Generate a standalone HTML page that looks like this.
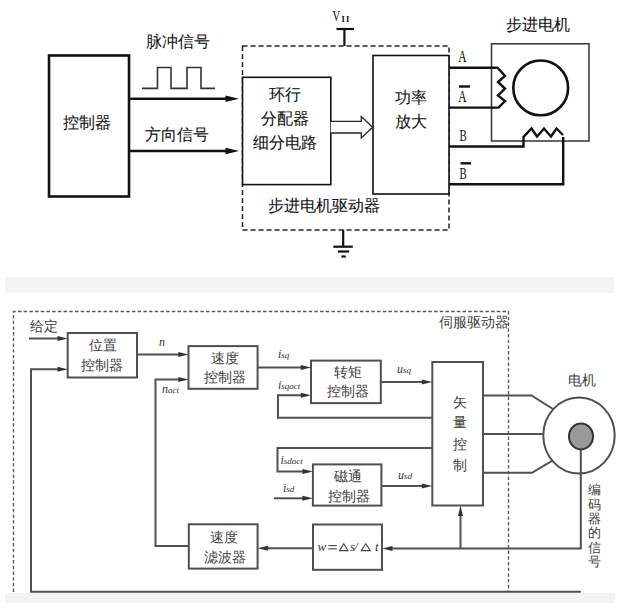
<!DOCTYPE html>
<html><head><meta charset="utf-8">
<style>
html,body{margin:0;padding:0;background:#fff;}
svg{display:block;}
text{font-family:"Liberation Sans",sans-serif;}
.sf text{font-family:"Liberation Serif",serif;}
.cj{font-size:16px;fill:#111;stroke:#111;stroke-width:0.08px;}
.cb{font-size:13px;fill:#3c3c3c;}
text.ser, .ser text{font-family:"Liberation Serif",serif;font-style:italic;fill:#333;}
</style></head><body>
<svg width="636" height="610" viewBox="0 0 636 610">
<!-- ===== TOP DIAGRAM ===== -->
<g fill="none" stroke="#111">
  <rect x="49" y="55.5" width="80" height="141" stroke-width="2.6"/>
  <polyline points="142,88.4 157.5,88.4 157.5,67.5 171,67.5 171,88.4 187,88.4 187,67.5 201,67.5 201,88.4 215,88.4" stroke="#333" stroke-width="1.6"/>
  <line x1="129" y1="98.7" x2="228" y2="98.7" stroke-width="2.6"/>
  <line x1="129" y1="151" x2="228" y2="151" stroke-width="2.6"/>
  <rect x="242.5" y="46" width="206.5" height="184" stroke="#222" stroke-width="1.5" stroke-dasharray="5 3"/>
  <rect x="242.5" y="77.3" width="88.3" height="107.3" stroke-width="1.6" fill="#fff"/>
  <rect x="373" y="55.5" width="76" height="138.5" stroke-width="1.6" fill="#fff"/>
  <path d="M330.7,121.3 L361.3,121.3 L361.3,116.5 L372.6,127.2 L361.3,138 L361.3,133 L330.7,133" stroke="#222" stroke-width="1.3" fill="#fff"/>
  <!-- VH -->
  <line x1="336.5" y1="29" x2="354" y2="29" stroke-width="2.2"/>
  <line x1="344.4" y1="29" x2="344.4" y2="46" stroke-width="2.2"/>
  <!-- ground -->
  <line x1="343.2" y1="230" x2="343.2" y2="246.7" stroke-width="2.2"/>
  <line x1="333.3" y1="246.7" x2="352.8" y2="246.7" stroke-width="2.2"/>
  <line x1="337.9" y1="251.5" x2="349.2" y2="251.5" stroke-width="2.2"/>
  <line x1="341.4" y1="256.5" x2="345.8" y2="256.5" stroke-width="2.2"/>
  <!-- motor -->
  <rect x="491.5" y="43.8" width="97.5" height="97.2" stroke="#333" stroke-width="1.5"/>
  <circle cx="540.7" cy="87.9" r="27.4" stroke-width="2.6"/>
  <polyline points="449,67.7 497.5,67.7 505,76 498,82 505,88.5 498,95.5 505,101 498.5,107.6 449,107.6" stroke-width="2.4" stroke-linejoin="miter"/>
  <polyline points="449,146.5 523.5,146.5 523.5,137 531.5,128.5 537,136.5 544,128.5 551,136.5 556.5,128.5 563,135" stroke-width="2.4"/>
  <polyline points="563.2,137 563.2,184.3 449,184.3" stroke-width="2.4"/>
</g>
<g fill="#111">
  <polygon points="225.5,95.4 239,98.7 225.5,102"/>
  <polygon points="225.5,147.7 239,151 225.5,154.3"/>
</g>
<text class="cj" x="178" y="47" text-anchor="middle">脉冲信号</text>
<text class="cj" x="176.5" y="140" text-anchor="middle">方向信号</text>
<text class="cj" x="87" y="128" text-anchor="middle">控制器</text>
<text class="cj" x="285" y="100" text-anchor="middle">环行</text>
<text class="cj" x="285" y="124" text-anchor="middle">分配器</text>
<text class="cj" x="285" y="148" text-anchor="middle">细分电路</text>
<text class="cj" x="411" y="103" text-anchor="middle">功率</text>
<text class="cj" x="411" y="127" text-anchor="middle">放大</text>
<text class="cj" x="324" y="211" text-anchor="middle">步进电机驱动器</text>
<text class="cj" x="538" y="30" text-anchor="middle">步进电机</text>
<g class="sf" style="fill:#111">
<text transform="translate(332.3,20.8) scale(0.8,1)" style="font-size:14px">V</text>
<text x="341.5" y="22" style="font-size:8.5px;font-weight:bold;letter-spacing:1.2px">II</text>
</g>
<g class="sf" style="font-size:16px;fill:#111">
<text transform="translate(458.3,62) scale(0.72,1)">A</text>
<text transform="translate(458.3,101.8) scale(0.72,1)">A</text>
<text transform="translate(459.5,140.5) scale(0.68,1)">B</text>
<text transform="translate(459.5,178.5) scale(0.68,1)">B</text>
</g>
<g stroke="#111" stroke-width="2.4">
<line x1="459" y1="86.5" x2="470" y2="86.5"/>
<line x1="460.5" y1="163.3" x2="471" y2="163.3"/>
</g>

<!-- ===== BAND ===== -->
<rect x="5" y="277" width="609" height="16" fill="#f3f3f3"/>
<rect x="5" y="593" width="610" height="10" fill="#f3f3f3"/>

<!-- ===== BOTTOM DIAGRAM ===== -->
<path d="M13.5,592 V311.5 H508.5 V592" fill="none" stroke="#555" stroke-width="1.3" stroke-dasharray="3.4 2.3"/>
<g fill="none" stroke="#505050" stroke-width="2">
  <rect x="67.7" y="333" width="69.3" height="44.5"/>
  <rect x="188.5" y="346.1" width="69.1" height="42.7"/>
  <rect x="311" y="360.6" width="69.8" height="42.5"/>
  <rect x="432.3" y="362" width="50.7" height="143.5"/>
  <rect x="312.9" y="464.4" width="68.5" height="41.2"/>
  <rect x="313" y="524.5" width="69" height="45.3"/>
  <rect x="188.8" y="524.3" width="68.8" height="44.3"/>
  <line x1="29" y1="338.5" x2="60" y2="338.5"/>
  <polyline points="580.8,591.7 31,591.7 31,369.2 60,369.2"/>
  <line x1="137" y1="354.5" x2="181" y2="354.5"/>
  <polyline points="188.8,546 155.5,546 155.5,379.5 181,379.5"/>
  <line x1="257.6" y1="367.6" x2="304" y2="367.6"/>
  <polyline points="432.3,417.7 278,417.7 278,395.3 304,395.3"/>
  <line x1="380.8" y1="382" x2="425" y2="382"/>
  <polyline points="432.3,448.1 277.5,448.1 277.5,471.5 305,471.5"/>
  <line x1="274" y1="498.3" x2="305" y2="498.3"/>
  <line x1="381.4" y1="486" x2="425" y2="486"/>
  <polyline points="483,395.5 531.5,395.5 553,409"/>
  <line x1="483" y1="434" x2="543.5" y2="434"/>
  <polyline points="483,472.8 532,472.8 552,460.8"/>
  <ellipse cx="579" cy="435.5" rx="35.7" ry="38"/>
  <polyline points="580.8,449 580.8,548.4 389,548.4"/>
  <line x1="460.5" y1="548.4" x2="460.5" y2="512"/>
  <line x1="313" y1="548.2" x2="266" y2="548.2"/>
</g>
<ellipse cx="581" cy="436.4" rx="12" ry="13" fill="#999" stroke="#333" stroke-width="2"/>
<g fill="#333">
  <polygon points="57.5,336 67.7,338.5 57.5,341"/>
  <polygon points="57.5,366.7 67.7,369.2 57.5,371.7"/>
  <polygon points="178.3,352 188.5,354.5 178.3,357"/>
  <polygon points="178.3,377 188.5,379.5 178.3,382"/>
  <polygon points="300.8,365.1 311,367.6 300.8,370.1"/>
  <polygon points="300.8,392.8 311,395.3 300.8,397.8"/>
  <polygon points="421.8,379.5 432.3,382 421.8,384.5"/>
  <polygon points="302.4,469 312.9,471.5 302.4,474"/>
  <polygon points="302.4,495.8 312.9,498.3 302.4,500.8"/>
  <polygon points="421.8,483.5 432.3,486 421.8,488.5"/>
  <polygon points="458,516 460.5,505.5 463,516"/>
  <polygon points="392.5,545.9 382,548.4 392.5,550.9"/>
  <polygon points="268.1,545.7 257.6,548.2 268.1,550.7"/>
</g>
<g class="cb" style="font-size:13.5px">
<text x="44" y="330.5" text-anchor="middle">给定</text>
<text x="102.5" y="350" text-anchor="middle">位置</text>
<text x="102.3" y="370" text-anchor="middle">控制器</text>
<text x="224.5" y="362.5" text-anchor="middle">速度</text>
<text x="224.6" y="381.8" text-anchor="middle">控制器</text>
<text x="347.7" y="376.5" text-anchor="middle">转矩</text>
<text x="348.1" y="395.5" text-anchor="middle">控制器</text>
<text x="348.3" y="481" text-anchor="middle">磁通</text>
<text x="348.7" y="500.5" text-anchor="middle">控制器</text>
<text x="224.3" y="542.2" text-anchor="middle">速度</text>
<text x="224.6" y="562" text-anchor="middle">滤波器</text>
<text x="473.5" y="326.5" text-anchor="middle">伺服驱动器</text>
<text x="581.7" y="385" text-anchor="middle">电机</text>
</g>
<g class="cb" style="font-size:13.5px">
<text x="459.6" y="406.8" text-anchor="middle">矢</text>
<text x="459.6" y="427.2" text-anchor="middle">量</text>
<text x="459.6" y="449" text-anchor="middle">控</text>
<text x="459.6" y="469.6" text-anchor="middle">制</text>
</g>
<g class="cb" style="font-size:12.8px">
<text x="594" y="494" text-anchor="middle">编</text>
<text x="594" y="508.5" text-anchor="middle">码</text>
<text x="594" y="522.5" text-anchor="middle">器</text>
<text x="594" y="537" text-anchor="middle">的</text>
<text x="594" y="551.5" text-anchor="middle">信</text>
<text x="594" y="566" text-anchor="middle">号</text>
</g>
<g class="ser" style="font-size:12px">
<text x="159" y="345.5">n</text>
<text x="162" y="392.5">n<tspan font-size="9">act</tspan></text>
<text x="278" y="358">i<tspan font-size="9">sq</tspan></text>
<text x="278" y="389">i<tspan font-size="9">sqact</tspan></text>
<text x="397" y="373">u<tspan font-size="9">sq</tspan></text>
<text x="280.5" y="464">i<tspan font-size="9">sdact</tspan></text>
<text x="283" y="492">i<tspan font-size="9">sd</tspan></text>
<text x="398" y="479">u<tspan font-size="9">sd</tspan></text>
<text x="317.5" y="551" style="font-size:13px">w</text>
<text x="350" y="551" style="font-size:13px">s</text>
<text x="354" y="551" style="font-size:13.5px">/</text>
<text x="375" y="551" style="font-size:13px">t</text>
</g>
<g stroke="#444" stroke-width="1.1"><line x1="328.3" y1="545.6" x2="336.8" y2="545.6"/><line x1="328.3" y1="548.8" x2="336.8" y2="548.8"/></g>
<g fill="none" stroke="#444" stroke-width="1.1">
<polygon points="339.5,550.6 343.8,543.8 348,550.6"/>
<polygon points="361.3,550.6 365.8,543.8 370.3,550.6"/>
</g>
</svg>
</body></html>
